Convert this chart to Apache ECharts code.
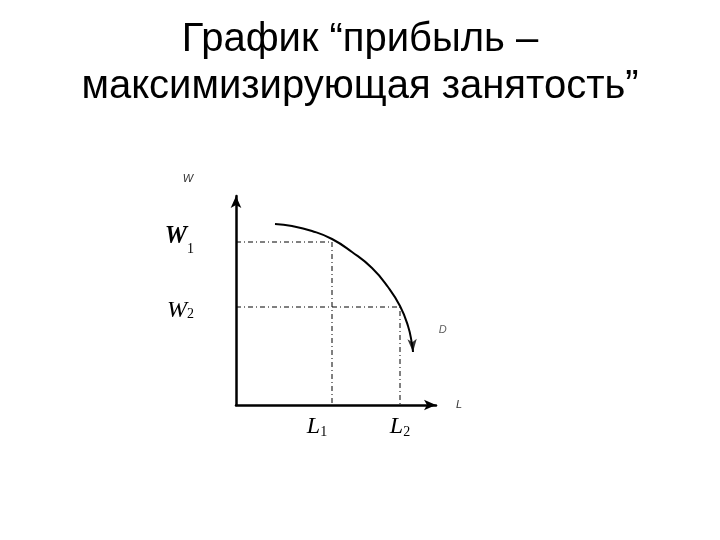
<!DOCTYPE html>
<html>
<head>
<meta charset="utf-8">
<script src="https://cdn.jsdelivr.net/npm/echarts@6/dist/echarts.min.js"></script>
<style>
html, body { margin: 0; background: #fff; }
#main { width: 720px; height: 540px; }
</style>
</head>
<body>
<div id="main"></div>
<script>
// кривая спроса D (читается с картинки)
var curveX = [39, 56, 76, 96, 116, 136, 152, 164, 172, 176, 177];
var curveY = [181, 179, 174, 166, 153, 137, 118, 99, 79, 61, 53];
// занятость и ставки
var lValues = [96, 164];
var wValues = [163, 98];

var serif = '"Liberation Serif", "DejaVu Serif", serif';
var sans = '"Liberation Sans", Arial, sans-serif';

function guide(i) {
    return [[0, wValues[i]], [lValues[i], wValues[i]], [lValues[i], 0]];
}

var myChart = echarts.init(document.getElementById('main'));

var option = {
    animation: false,
    backgroundColor: '#fff',
    title: {
        text: 'График “прибыль –\nмаксимизирующая занятость”',
        left: 'center',
        top: 11,
        textStyle: {
            color: '#000',
            fontFamily: sans,
            fontWeight: 'normal',
            fontSize: 40,
            lineHeight: 47
        }
    },
    grid: { left: 236, right: 284, top: 196, bottom: 135 },
    xAxis: {
        type: 'value',
        min: 0,
        max: 200,
        name: 'L',
        nameLocation: 'end',
        nameGap: 20,
        nameTextStyle: { fontFamily: sans, fontStyle: 'italic', fontSize: 11, color: '#333', padding: [0, 0, 10, 0] },
        axisLine: { lineStyle: { color: '#000', width: 2.5 }, symbol: ['none', 'arrow'], symbolSize: [8, 12] },
        axisTick: { show: false },
        splitLine: { show: false },
        axisLabel: {
            customValues: lValues,
            margin: 10,
            formatter: function (v) {
                var i = lValues.indexOf(v);
                return (i === 0 ? '{a|L}{s|1}{p|}' : '{a|L}{s|2}');
            },
            rich: {
                a: { fontFamily: serif, fontStyle: 'italic', fontSize: 24, color: '#000' },
                s: { fontFamily: serif, fontSize: 14, color: '#000', padding: [10, 0, 0, 0] },
                p: { width: 30 }
            }
        }
    },
    yAxis: {
        type: 'value',
        min: 0,
        max: 209,
        name: 'W',
        nameLocation: 'end',
        nameGap: 12,
        nameTextStyle: { fontFamily: sans, fontStyle: 'italic', fontSize: 11, color: '#333', padding: [0, 96, 0, 0] },
        axisLine: { lineStyle: { color: '#000', width: 2.5 }, symbol: ['none', 'arrow'], symbolSize: [8, 12] },
        axisTick: { show: false },
        splitLine: { show: false },
        axisLabel: {
            customValues: wValues,
            margin: 42,
            formatter: function (v) {
                var i = wValues.indexOf(v);
                return i === 0 ? '{b|W}{s|1}' : '{a|W}{s|2}';
            },
            rich: {
                a: { fontFamily: serif, fontStyle: 'italic', fontSize: 24, color: '#000', padding: [8, 0, 0, 0] },
                b: { fontFamily: serif, fontStyle: 'italic', fontWeight: 'bold', fontSize: 25, color: '#000', padding: [0, 0, 10, 0] },
                s: { fontFamily: serif, fontSize: 14, color: '#000', padding: [14, 0, 0, 0] }
            }
        }
    },
    series: [
        {
            type: 'line',
            data: guide(0),
            showSymbol: false,
            lineStyle: { color: '#000', width: 1, type: [5, 3, 1, 3] }
        },
        {
            type: 'line',
            data: guide(1),
            showSymbol: false,
            lineStyle: { color: '#000', width: 1, type: [5, 3, 1, 3] }
        },
        {
            type: 'line',
            data: curveX.map(function (x, i) { return [x, curveY[i]]; }),
            smooth: 0.5,
            showSymbol: false,
            lineStyle: { color: '#000', width: 2 }
        },
        {
            type: 'scatter',
            data: [[curveX[curveX.length - 1], curveY[curveY.length - 1]]],
            symbol: 'arrow',
            symbolSize: [7, 13],
            symbolRotate: 184,
            itemStyle: { color: '#000' },
            label: {
                show: true,
                formatter: 'D',
                position: 'right',
                offset: [16, -16],
                fontFamily: sans,
                fontStyle: 'italic',
                fontSize: 11,
                color: '#333'
            }
        }
    ]
};

myChart.setOption(option);
</script>
</body>
</html>
